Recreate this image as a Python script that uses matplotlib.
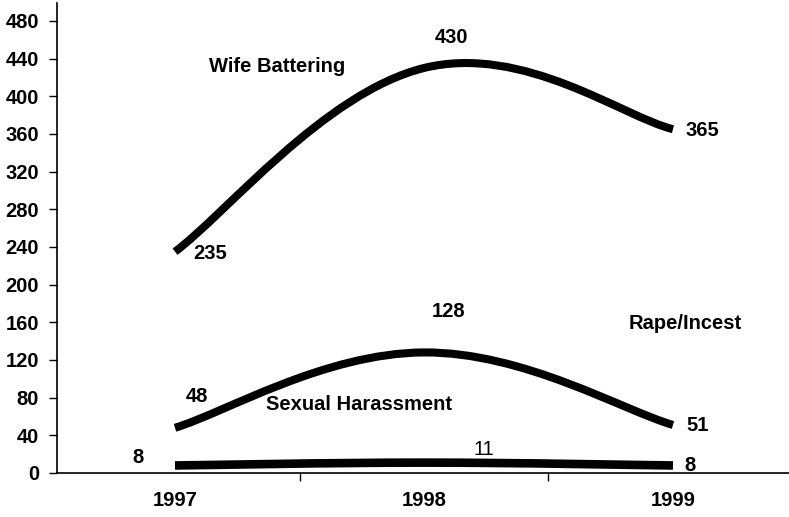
import matplotlib
matplotlib.use("Agg")
import matplotlib.pyplot as plt
from matplotlib.path import Path
from matplotlib.patches import PathPatch
import numpy as np

years = ["1997", "1998", "1999"]
wife_battering = [235, 430, 365]
rape_incest = [48, 128, 51]
sexual_harassment = [8, 11, 8]
y_ticks = list(range(0, 481, 40))

plt.rcParams['font.family'] = ['Liberation Sans', 'DejaVu Sans']
plt.rcParams['font.weight'] = 'bold'

W, H = 789, 517
fig = plt.figure(figsize=(W / 100, H / 100), dpi=100)
ax = fig.add_axes([57 / W, 44 / H, 1 - 57 / W, (473 - 3) / H])

x = np.arange(len(years))


def smooth_path(xs, ys, k=0.2):
    pts = np.column_stack([xs, ys]).astype(float)
    n = len(pts)
    verts = [pts[0]]
    codes = [Path.MOVETO]
    for i in range(n - 1):
        p_prev = pts[i - 1] if i > 0 else pts[i]
        p_next2 = pts[i + 2] if i + 2 < n else pts[i + 1]
        c1 = pts[i] + k * (pts[i + 1] - p_prev)
        c2 = pts[i + 1] - k * (p_next2 - pts[i])
        verts += [c1, c2, pts[i + 1]]
        codes += [Path.CURVE4] * 3
    return Path(verts, codes)


for series, lw in [(wife_battering, 5.8), (rape_incest, 5.8), (sexual_harassment, 6.2)]:
    patch = PathPatch(smooth_path(x, series), facecolor='none', edgecolor='black',
                      linewidth=lw, capstyle='butt', joinstyle='round')
    ax.add_patch(patch)

ax.set_xlim(-0.474, 2.466)
ax.set_ylim(0, 499)

fs = 14.5
ax.set_yticks(y_ticks)
ax.set_yticklabels([str(v) for v in y_ticks], fontsize=fs, fontweight='bold')
ax.tick_params(axis='y', direction='out', length=6, width=1, pad=7)

ax.set_xticks(x)
ax.set_xticklabels(years, fontsize=fs, fontweight='bold')
ax.set_xticks([0.5, 1.5], minor=True)
ax.tick_params(axis='x', which='major', length=0, pad=13)
ax.tick_params(axis='x', which='minor', direction='out', length=6, width=1)

for side in ['top', 'right']:
    ax.spines[side].set_visible(False)
ax.spines['left'].set_linewidth(1.2)
ax.spines['bottom'].set_linewidth(1.2)

# value labels
ax.text(0.14, wife_battering[0] - 2, str(wife_battering[0]), fontsize=fs, fontweight='bold', ha='center', va='center')
ax.text(1.11, 462, str(wife_battering[1]), fontsize=fs, fontweight='bold', ha='center', va='center')
ax.text(2.12, wife_battering[2] - 1, str(wife_battering[2]), fontsize=fs, fontweight='bold', ha='center', va='center')

ax.text(0.09, 81, str(rape_incest[0]), fontsize=fs, fontweight='bold', ha='center', va='center')
ax.text(1.10, 171, str(rape_incest[1]), fontsize=fs, fontweight='bold', ha='center', va='center')
ax.text(2.10, rape_incest[2] - 1, str(rape_incest[2]), fontsize=fs, fontweight='bold', ha='center', va='center')

ax.text(-0.15, 16, str(sexual_harassment[0]), fontsize=fs, fontweight='bold', ha='center', va='center')
ax.text(1.24, 25, str(sexual_harassment[1]), fontsize=fs, fontweight='normal', ha='center', va='center')
ax.text(2.07, 8, str(sexual_harassment[2]), fontsize=fs, fontweight='bold', ha='center', va='center')

# series labels
ax.text(0.41, 432, "Wife Battering", fontsize=fs, fontweight='bold', ha='center', va='center')
ax.text(2.05, 159, "Rape/Incest", fontsize=fs, fontweight='bold', ha='center', va='center')
ax.text(0.74, 73, "Sexual Harassment", fontsize=fs, fontweight='bold', ha='center', va='center')

fig.savefig("out.png", dpi=100)
